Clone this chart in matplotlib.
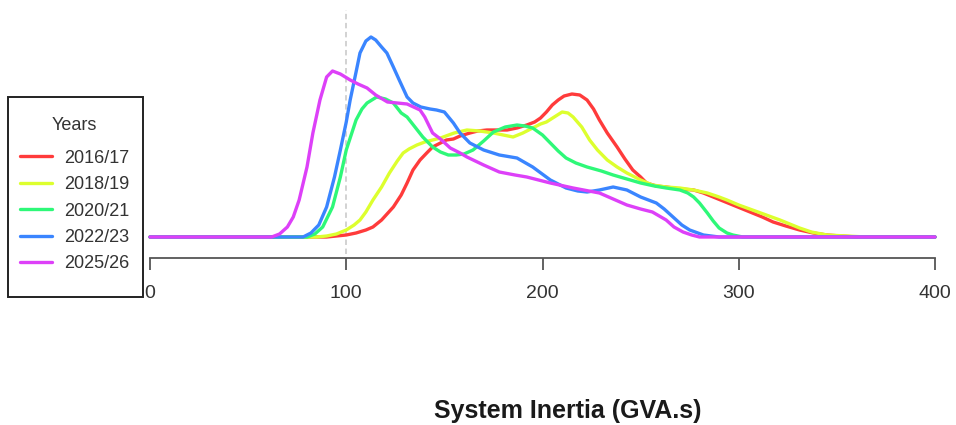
import matplotlib
matplotlib.use("Agg")
import matplotlib.pyplot as plt
from matplotlib.patches import Rectangle

plt.rcParams['font.family'] = ['Liberation Sans', 'DejaVu Sans']

# density curves of system inertia (arbitrary units)
years = ['2016/17', '2018/19', '2020/21', '2022/23', '2025/26']
colours = ['#FF3B3B', '#DDFF2E', '#2EF878', '#3A85FF', '#DD40F8']

x_1617 = [0, 90, 95, 100, 105, 110, 113.6, 118, 124, 128, 131, 134, 137.6, 141, 144, 148, 151,
          154.6, 158, 163, 167, 171.7, 177, 182, 187, 192, 196, 199, 202, 205, 208, 211, 215,
          219, 222.7, 226, 229, 233, 238, 242, 246, 250, 253, 258, 263, 270, 277, 282, 287,
          292, 297, 302, 307, 312, 317.5, 324, 331, 338, 345, 352, 360, 400]
y_1617 = [0, 0, 1, 2, 4, 7, 10, 17, 30, 42, 54, 67, 77, 84, 90, 94, 97, 98, 101, 104, 106, 107,
          107, 107, 109, 112, 115, 119, 125, 132, 137, 141, 143, 142, 137, 128, 117, 104, 90, 78,
          67, 60, 54, 51, 50, 48, 47, 44, 40, 36, 32, 28, 24, 20, 15, 11, 7, 4, 2, 1, 0, 0]

x_1819 = [0, 85, 90, 95, 100, 104, 107, 110, 113.6, 118, 122, 126, 129, 132, 136, 140, 148, 155,
          161.5, 168, 175, 180, 185, 190, 195, 199, 202, 206, 210, 213, 215.6, 220, 224, 228,
          233, 238, 243, 250, 256, 263, 270, 277, 284, 290, 294, 300, 307, 314, 321, 326, 331,
          337, 345, 355, 365, 400]
y_1819 = [0, 0, 1, 3, 7, 12, 17, 25, 37, 50, 64, 76, 84, 88, 92, 95, 99, 104, 107, 106, 104, 102,
          100, 104, 109, 113, 115, 120, 125, 124, 120, 110, 97, 87, 77, 70, 64, 57, 52, 50, 49,
          47, 44, 40, 37, 32, 27, 22, 17, 13, 9, 5, 2, 1, 0, 0]

x_2021 = [0, 80, 84, 88, 93, 97, 100, 103, 105, 108, 110.6, 115.5, 120, 124, 128, 131, 135, 139,
          144, 148, 152, 156, 160, 164.6, 170, 175, 181, 187, 191, 195, 200, 204, 208, 212, 217,
          222.7, 230, 236, 243, 250, 257, 263, 270, 274, 277, 280, 284, 287, 290, 294, 297, 302,
          400]
y_2021 = [0, 0, 3, 10, 30, 60, 87, 105, 117, 128, 134, 140, 138, 134, 124, 120, 110, 100, 90, 85,
          82, 82, 83, 87, 96, 105, 110, 112, 111, 109, 102, 94, 86, 79, 74, 70, 66, 62, 58, 54,
          51, 49, 47, 44, 40, 34, 24, 16, 9, 4, 2, 0, 0]

x_2223 = [0, 78, 82, 86, 90, 94, 97, 100, 102, 105, 107, 110, 112.6, 115, 118, 120.7, 124, 127,
          131, 134, 138, 142.7, 146, 150, 154.6, 158, 163, 170, 178, 187, 195, 204, 212, 218,
          222.7, 229, 236, 243, 250, 258, 262, 266.5, 271, 275, 282, 290, 400]
y_2223 = [0, 0, 4, 12, 30, 60, 87, 115, 137, 165, 184, 196, 200, 197, 190, 184, 170, 157, 140,
          134, 130, 128, 127, 125, 114, 104, 94, 87, 82, 79, 70, 57, 49, 46, 45, 47, 50, 47, 40,
          34, 28, 20, 12, 7, 2, 0, 0]

x_2526 = [0, 62, 66, 70, 73, 76, 80, 83, 86.6, 90, 93, 97, 102, 106, 110.6, 115, 121, 126, 131,
          137.6, 140, 144, 148, 153, 158, 161.5, 170, 178, 186, 192, 204, 215.6, 229, 236, 243,
          250, 256, 263, 267, 271.6, 276, 280, 290, 400]
y_2526 = [0, 0, 3, 10, 20, 37, 70, 104, 137, 160, 166, 163, 157, 153, 149, 142, 135, 134, 133,
          127, 120, 104, 98, 89, 84, 80, 72, 65, 62, 60, 54, 49, 44, 38, 32, 28, 25, 17, 10, 5,
          2, 0, 0, 0]

xs = [x_1617, x_1819, x_2021, x_2223, x_2526]
ys = [y_1617, y_1819, y_2021, y_2223, y_2526]

ref_x = 100
xticks = [0, 100, 200, 300, 400]

W, H = 956, 425
fig = plt.figure(figsize=(W / 100, H / 100), dpi=100)
# axes placed in pixel terms: x 150..935, y 10..240 from top
ax = fig.add_axes([150 / W, 1 - 240 / H, 785 / W, 230 / H])
ax.set_xlim(0, 400)
ax.set_ylim(-3, 227)

ax.axvline(ref_x, ymin=-0.06, ymax=1, color='#cfcfcf', lw=1.3, ls=(0, (3, 2)),
           clip_on=False, zorder=1)

for x, y, c, lab in zip(xs, ys, colours, years):
    ax.plot(x, y, color=c, lw=2.4, label=lab, solid_joinstyle='round',
            solid_capstyle='round', clip_on=False, zorder=3)

for s in ['top', 'right', 'left']:
    ax.spines[s].set_visible(False)
ax.spines['bottom'].set_position(('outward', 13))
ax.spines['bottom'].set_bounds(0, 400)
ax.spines['bottom'].set_color('#555555')
ax.spines['bottom'].set_linewidth(1.3)
ax.set_yticks([])
ax.set_xticks(xticks)
ax.set_xticklabels([str(t) for t in xticks])
ax.tick_params(axis='x', length=8.5, width=1.3, color='#555555', pad=11,
               labelsize=14, labelcolor='#333333')

# legend box drawn as a plain rectangle, entries inside
fig.patches.append(Rectangle((8 / W, 1 - 297 / H), 135 / W, 200 / H,
                             transform=fig.transFigure, fill=False,
                             edgecolor='#222222', lw=1.4, zorder=5))
fig.text(74 / W, 1 - 126 / H, 'Years', ha='center', va='center', fontsize=13, color='#333333')
leg = ax.legend(loc='center', bbox_to_anchor=(75 / W, 1 - 211 / H),
                bbox_transform=fig.transFigure, frameon=False, fontsize=13,
                handlelength=1.75, handletextpad=0.7, labelspacing=0.52, borderpad=0)
for t in leg.get_texts():
    t.set_color('#333333')

fig.text(568 / W, 1 - 411 / H, 'System Inertia (GVA.s)', ha='center', va='center',
         fontsize=18, fontweight='bold', color='#1a1a1a')

fig.savefig('out.png', dpi=100)
